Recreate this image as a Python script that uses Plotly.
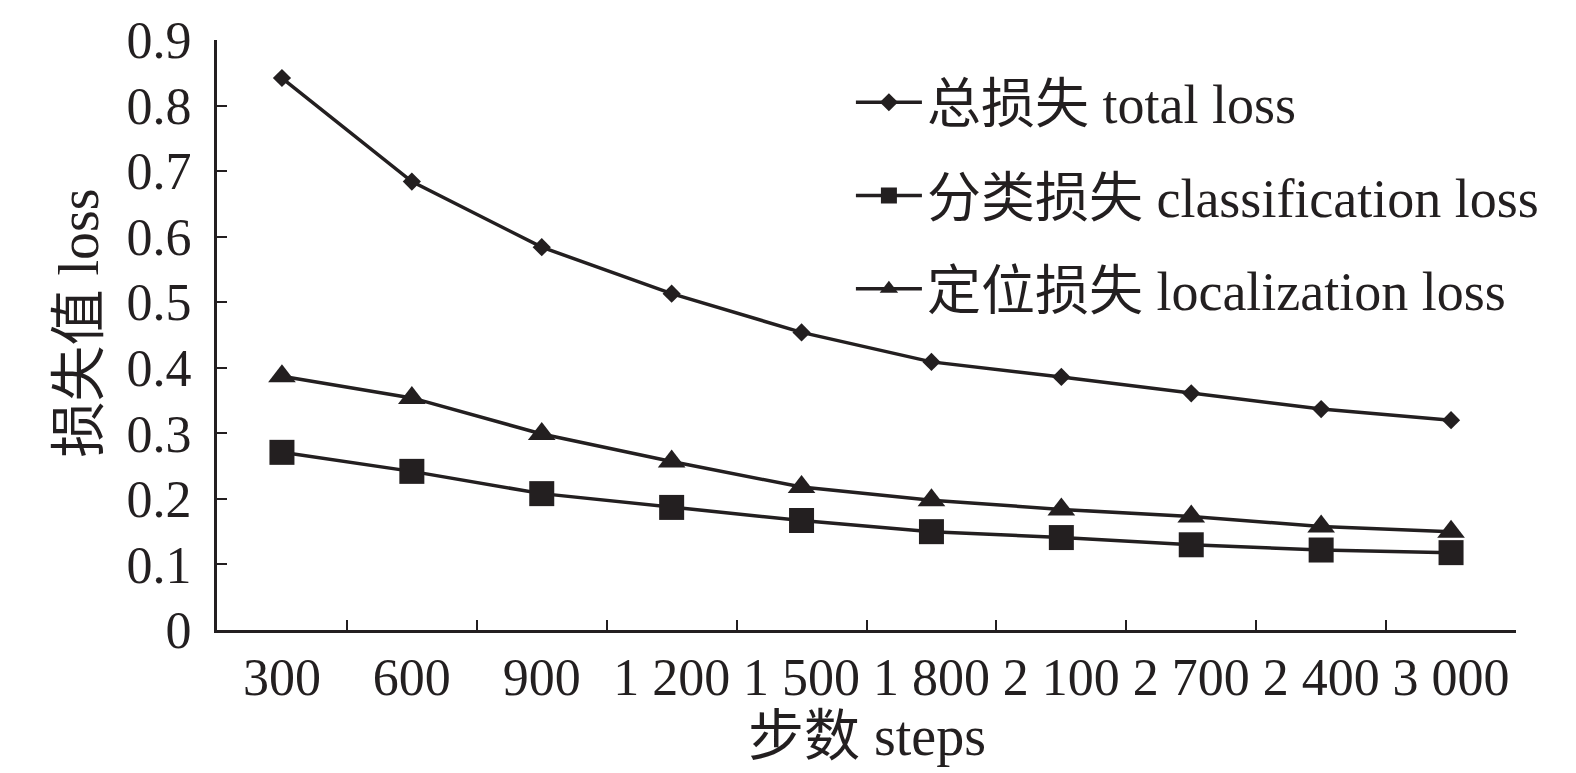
import plotly.graph_objects as go

steps = ["300", "600", "900", "1 200", "1 500", "1 800", "2 100", "2 700", "2 400", "3 000"]
total_loss = [0.842, 0.684, 0.584, 0.513, 0.454, 0.409, 0.386, 0.361, 0.337, 0.320]
cls_loss = [0.271, 0.242, 0.208, 0.187, 0.167, 0.150, 0.141, 0.130, 0.122, 0.118]
loc_loss = [0.387, 0.354, 0.299, 0.257, 0.218, 0.198, 0.184, 0.173, 0.158, 0.150]

names = ["总损失 total loss", "分类损失 classification loss", "定位损失 localization loss"]
symbols = ["diamond", "square", "triangle-up"]
sizes = [14, 25, 24]

font_family = "Liberation Serif, Times New Roman, Noto Sans CJK SC"
ink = "#231f20"

fig = go.Figure()

for i, ys in enumerate([total_loss, cls_loss, loc_loss]):
    fig.add_trace(go.Scatter(
        x=steps,
        y=ys,
        mode="lines+markers",
        name=names[i],
        legendgroup=str(i),
        line=dict(color=ink, width=3.5),
        marker=dict(symbol=symbols[i], size=sizes[i], color=ink)
    ))

fig.update_layout(
    width=1576,
    height=773,
    paper_bgcolor="white",
    plot_bgcolor="white",
    margin=dict(l=209, r=68, t=32, b=151, autoexpand=False),
    font=dict(family=font_family, size=52, color=ink),
    legend=dict(
        x=0.488, y=0.965,
        xanchor="left", yanchor="top",
        bgcolor="rgba(0,0,0,0)",
        tracegroupgap=20,
        font=dict(size=54),
        itemwidth=66
    ),
    showlegend=True
)

# axis titles as annotations so the plot box stays put
fig.add_annotation(
    text="步数 steps", xref="paper", yref="paper",
    x=0.5, y=-0.18, xanchor="center", yanchor="middle",
    showarrow=False, font=dict(size=56)
)
fig.add_annotation(
    text="损失值 loss", xref="paper", yref="paper",
    x=-0.106, y=0.52, xanchor="center", yanchor="middle",
    textangle=-90, showarrow=False, font=dict(size=56)
)

fig.update_xaxes(
    type="category",
    range=[-0.5, 9.5],
    automargin=False,
    showline=True,
    linecolor=ink,
    linewidth=3,
    ticks="inside",
    tickson="boundaries",
    ticklen=10,
    tickwidth=2,
    tickcolor=ink,
    showgrid=False,
    tickfont=dict(size=52)
)

fig.update_yaxes(
    range=[0, 0.9],
    dtick=0.1,
    automargin=False,
    showline=True,
    linecolor=ink,
    linewidth=3,
    ticks="inside",
    ticklen=10,
    tickwidth=2,
    tickcolor=ink,
    ticklabelstandoff=12,
    showgrid=False,
    zeroline=False,
    tickfont=dict(size=52)
)

fig.write_html("out.html")
